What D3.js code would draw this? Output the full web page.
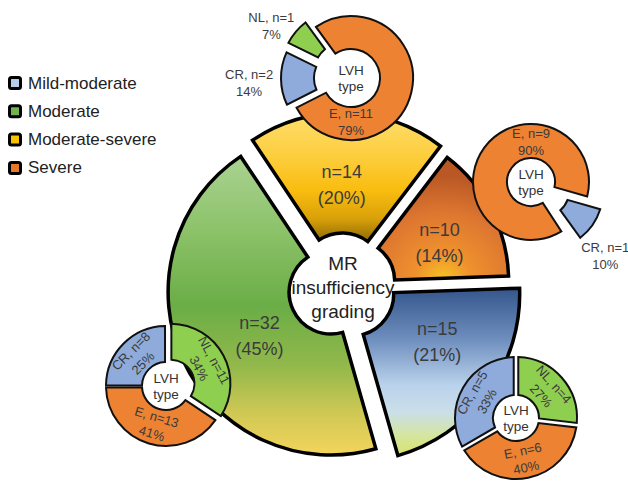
<!DOCTYPE html>
<html>
<head>
<meta charset="utf-8">
<script src="https://cdn.jsdelivr.net/npm/d3@7"></script>
<style>
  html, body { margin: 0; padding: 0; background: #fff; }
  svg { display: block; font-family: "Liberation Sans", Arial, Helvetica, sans-serif; }
</style>
</head>
<body>
<svg id="chart" width="628" height="482"></svg>
<script>
// MR insufficiency grades and patient counts
const grades = ["Mild-moderate", "Moderate", "Moderate-severe", "Severe"];
const gradeCounts = [15, 32, 14, 10];

// LVH type breakdown inside each grade
const lvhTypes = ["NL", "E", "CR"];
const lvhMildModerate = [4, 6, 5];
const lvhModerate = [11, 13, 8];
const lvhModerateSevere = [1, 11, 2];
const lvhSevere = [0, 9, 1];

const deg = Math.PI / 180;
const svg = d3.select("#chart");
const defs = svg.append("defs");

// ---------- styling ----------
const legendColor = {
  "Mild-moderate": "#b4cdea",
  "Moderate": "#72b34f",
  "Moderate-severe": "#f6c100",
  "Severe": "#e6782c"
};
const sliceGradient = {
  "Mild-moderate": { type: "linear", stops: [[0, "#35568c"], [0.3, "#6d8dbd"], [0.58, "#bad2ec"], [0.74, "#cadfe9"], [0.88, "#d5e59f"], [1, "#d8e36a"]] },
  "Moderate": { type: "linear", stops: [[0, "#aad291"], [0.25, "#8cc269"], [0.5, "#6aad46"], [0.7, "#92b84b"], [0.86, "#cfc854"], [1, "#f4d55c"]] },
  "Moderate-severe": { type: "linear", stops: [[0, "#fedd6c"], [0.3, "#fdd043"], [0.6, "#f9bd0f"], [0.82, "#d9a109"], [1, "#8e6a06"]] },
  "Severe": { type: "radial", cx: 0.5, cy: 1.0, r: 0.85, stops: [[0, "#f6c524"], [0.25, "#ef922e"], [0.65, "#dd7630"], [1, "#b95825"]] }
};
const typeColor = { NL: "#8fcf50", E: "#ec8232", CR: "#8eabdb" };
const textColor = "#3b3b3b";

Object.entries(sliceGradient).forEach(([g, spec], i) => {
  const grad = spec.type === "linear"
    ? defs.append("linearGradient").attr("x1", 0).attr("y1", 0).attr("x2", 0).attr("y2", 1)
    : defs.append("radialGradient").attr("cx", spec.cx).attr("cy", spec.cy).attr("r", spec.r);
  grad.attr("id", "grad" + i);
  spec.id = "grad" + i;
  spec.stops.forEach(([o, c]) => grad.append("stop").attr("offset", o).attr("stop-color", c));
});

// ---------- main exploded pie ----------
const main = { cx: 342, cy: 287, inner: 42, explode: 12, start: 88 * deg };
const mainOuter = { "Mild-moderate": 168, "Moderate": 163, "Moderate-severe": 162, "Severe": 156 };
// label placement around the centre: angular nudge (degrees) and distance
const mainLabel = {
  "Mild-moderate": { shift: -6, r: 110 },
  "Moderate": { shift: -6, r: 96 },
  "Moderate-severe": { shift: -2, r: 102 },
  "Severe": { shift: 3, r: 107 }
};
const total = d3.sum(gradeCounts);
const mainData = grades.map((g, i) => ({ grade: g, count: gradeCounts[i] }));

const mainPie = d3.pie().sort(null).value(d => d.count)
  .startAngle(main.start).endAngle(main.start + 2 * Math.PI);
const mainArc = d3.arc().innerRadius(main.inner).outerRadius(d => mainOuter[d.data.grade]);
const mainArcs = mainPie(mainData);

const gMain = svg.append("g").attr("transform", `translate(${main.cx},${main.cy})`);
gMain.selectAll("path.slice").data(mainArcs).join("path")
  .attr("class", "slice")
  .attr("transform", d => {
    const m = (d.startAngle + d.endAngle) / 2;
    return `translate(${Math.sin(m) * main.explode},${-Math.cos(m) * main.explode})`;
  })
  .attr("d", mainArc)
  .attr("fill", d => `url(#${sliceGradient[d.data.grade].id})`)
  .attr("stroke", "#000")
  .attr("stroke-width", 3.5);

mainArcs.forEach(d => {
  const spec = mainLabel[d.data.grade];
  const m = (d.startAngle + d.endAngle) / 2 + spec.shift * deg;
  const t = gMain.append("g")
    .attr("transform", `translate(${Math.sin(m) * spec.r},${-Math.cos(m) * spec.r})`)
    .attr("text-anchor", "middle").attr("fill", textColor).style("font-size", "18px");
  t.append("text").attr("y", -13).attr("dominant-baseline", "central").text(`n=${d.data.count}`);
  t.append("text").attr("y", 13).attr("dominant-baseline", "central")
    .text(`(${Math.round(d.data.count / total * 100)}%)`);
});

// centre caption
const caption = gMain.append("g").attr("text-anchor", "middle").attr("fill", "#222").style("font-size", "19px");
["MR", "insufficiency", "grading"].forEach((s, i) => {
  caption.append("text").attr("x", 1).attr("y", (i - 1) * 24).attr("dominant-baseline", "central").text(s);
});

// ---------- LVH type donuts ----------
const donuts = [
  { values: lvhModerateSevere, cx: 351, cy: 78, inner: 29, outer: 62, start: -64, pad: 0.05,
    explode: { NL: 10, E: 0, CR: 8 },
    labels: { NL: { mode: "outside", angle: 303, r: 95 }, E: { mode: "ring", angle: 180, r: 44 }, CR: { mode: "outside", angle: 267, r: 102 } } },
  { values: lvhSevere, cx: 531, cy: 182, inner: 24, outer: 58, start: 144, pad: 0.05,
    explode: { NL: 0, E: 0, CR: 17 },
    labels: { E: { mode: "ring", angle: 0, r: 40 }, CR: { mode: "outside", angle: 135, r: 105 } } },
  { values: lvhModerate, cx: 166, cy: 386, inner: 24, outer: 60, start: 0, pad: 0.03,
    explode: { NL: 5, E: 0, CR: 0 },
    labels: { NL: { mode: "ring", r: 41 }, E: { mode: "ring", r: 41 }, CR: { mode: "ring", r: 41 } } },
  { values: lvhMildModerate, cx: 516, cy: 418, inner: 23, outer: 61, start: 0, pad: 0.07,
    explode: { NL: 0, E: 0, CR: 0 },
    labels: { NL: { mode: "ring", r: 42 }, E: { mode: "ring", r: 42 }, CR: { mode: "ring", r: 42 } } }
];

donuts.forEach(dn => {
  const data = lvhTypes.map((t, i) => ({ type: t, count: dn.values[i] }));
  const sum = d3.sum(dn.values);
  const pie = d3.pie().sort(null).value(d => d.count).padAngle(dn.pad)
    .startAngle(dn.start * deg).endAngle(dn.start * deg + 2 * Math.PI);
  const arc = d3.arc().innerRadius(dn.inner).outerRadius(dn.outer);
  const g = svg.append("g").attr("transform", `translate(${dn.cx},${dn.cy})`);

  const arcs = pie(data).filter(d => d.data.count > 0);
  const slices = g.selectAll("g.part").data(arcs).join("g").attr("class", "part")
    .attr("transform", d => {
      const m = (d.startAngle + d.endAngle) / 2, e = dn.explode[d.data.type] || 0;
      return `translate(${Math.sin(m) * e},${-Math.cos(m) * e})`;
    });
  slices.append("path").attr("d", arc)
    .attr("fill", d => typeColor[d.data.type])
    .attr("stroke", "#111").attr("stroke-width", 2);

  slices.each(function (d) {
    const spec = dn.labels[d.data.type];
    if (!spec) return;
    const lines = [`${d.data.type}, n=${d.data.count}`, `${Math.round(d.data.count / sum * 100)}%`];
    let a = spec.angle !== undefined ? spec.angle : ((d.startAngle + d.endAngle) / 2) / deg;
    a = ((a % 360) + 360) % 360;
    let x = Math.sin(a * deg) * spec.r, y = -Math.cos(a * deg) * spec.r;
    let rot = 0;
    if (spec.mode === "ring") {
      rot = (a > 90 && a < 270) ? a - 180 : a;
    } else {
      // outside labels are anchored to the donut centre, not the exploded slice
      const m = (d.startAngle + d.endAngle) / 2, e = dn.explode[d.data.type] || 0;
      x -= Math.sin(m) * e; y += Math.cos(m) * e;
    }
    const lg = d3.select(this).append("g").attr("transform", `translate(${x},${y}) rotate(${rot})`)
      .attr("text-anchor", "middle").attr("fill", textColor).style("font-size", "13px");
    lg.append("text").attr("y", -8.5).attr("dominant-baseline", "central").text(lines[0]);
    lg.append("text").attr("y", 8.5).attr("dominant-baseline", "central").text(lines[1]);
  });

  const c = g.append("g").attr("text-anchor", "middle").attr("fill", "#333").style("font-size", "13.5px");
  c.append("text").attr("y", -8).attr("dominant-baseline", "central").text("LVH");
  c.append("text").attr("y", 8).attr("dominant-baseline", "central").text("type");
});

// ---------- legend ----------
const legend = svg.append("g").attr("transform", "translate(8,83)");
const items = legend.selectAll("g").data(grades).join("g")
  .attr("transform", (d, i) => `translate(0,${i * 28.3})`);
items.append("rect").attr("x", 1.5).attr("y", -5.5).attr("width", 11).attr("height", 11)
  .attr("rx", 2).attr("fill", d => legendColor[d]).attr("stroke", "#000").attr("stroke-width", 3);
items.append("text").attr("x", 20).attr("y", 0).attr("dominant-baseline", "central")
  .attr("fill", "#222").style("font-size", "17px").text(d => d);
</script>
</body>
</html>
